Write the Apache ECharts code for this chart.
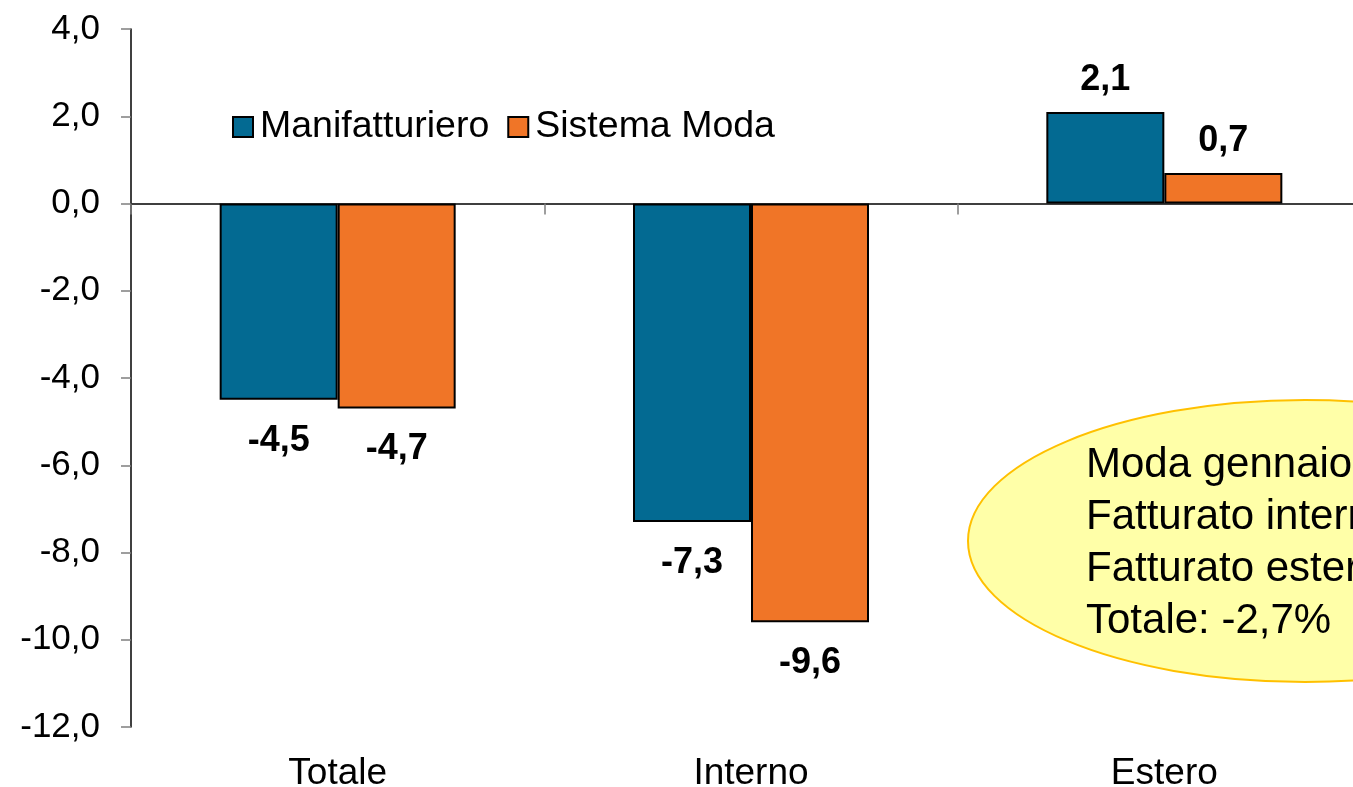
<!DOCTYPE html>
<html>
<head>
<meta charset="utf-8">
<script src="https://cdn.jsdelivr.net/npm/echarts@6/dist/echarts.min.js"></script>
<style>
  html, body { margin: 0; padding: 0; background: #ffffff; overflow: hidden; }
  #wrap { width: 1353px; height: 787px; overflow: hidden; }
  #chart { width: 1400px; height: 787px; }
</style>
</head>
<body>
<div id="wrap"><div id="chart"></div></div>
<script>
// Variazione % del fatturato per mercato
const categories = ['Totale', 'Interno', 'Estero'];
const manifatturiero = [-4.5, -7.3, 2.1];
const sistemaModa = [-4.7, -9.6, 0.7];
const seriesNames = ['Manifatturiero', 'Sistema Moda'];
const noteLines = ['Moda gennaio', 'Fatturato interno', 'Fatturato estero', 'Totale: -2,7%'];

const BLUE = '#036A92';
const ORANGE = '#F07527';
const FONT = "'Liberation Sans', Arial, Helvetica, sans-serif";

const fmt = v => v.toFixed(1).replace('.', ',');

function withLabels(values) {
  return values.map(v => ({
    value: v,
    label: v < 0 ? { position: 'bottom', distance: 23 } : { position: 'top', distance: 14 }
  }));
}

function barSeries(name, values, color) {
  return {
    name: name,
    type: 'bar',
    xAxisIndex: 0,
    barWidth: 118,
    barGap: '0%',
    data: withLabels(values),
    itemStyle: { color: color, borderColor: '#000000', borderWidth: 2 },
    label: {
      show: true,
      formatter: p => fmt(p.value),
      fontFamily: FONT,
      fontWeight: 'bold',
      fontSize: 36,
      color: '#000000'
    }
  };
}

const chart = echarts.init(document.getElementById('chart'), null, { renderer: 'canvas' });

chart.setOption({
  animation: false,
  backgroundColor: '#ffffff',
  grid: {
    left: 131, top: 29, width: 1240, height: 698,
    containLabel: false,
    outerBoundsMode: 'none'
  },
  legend: {
    data: seriesNames,
    left: 232,
    top: 108,
    padding: 0,
    itemWidth: 20,
    itemHeight: 20,
    itemGap: 18,
    icon: 'rect',
    itemStyle: { borderColor: '#000000', borderWidth: 2 },
    textStyle: { fontFamily: FONT, fontSize: 37.5, color: '#000000', padding: [0, 0, 0, 2] }
  },
  xAxis: [
    {
      type: 'category',
      data: categories,
      position: 'bottom',
      axisLine: { show: false, onZero: false },
      axisTick: { show: false },
      axisLabel: { margin: 28, fontFamily: FONT, fontSize: 37, color: '#000000' },
      splitLine: { show: false }
    },
    {
      type: 'category',
      data: categories,
      position: 'bottom',
      axisLine: { show: true, onZero: true, lineStyle: { color: '#000000', width: 1.5 } },
      axisTick: { show: true, inside: false, length: 11, lineStyle: { color: '#7f7f7f', width: 1.5 } },
      axisLabel: { show: false },
      splitLine: { show: false }
    }
  ],
  yAxis: {
    type: 'value',
    min: -12,
    max: 4,
    interval: 2,
    axisLine: { show: true, lineStyle: { color: '#000000', width: 1.5 } },
    axisTick: { show: true, length: 10, lineStyle: { color: '#7f7f7f', width: 1.5 } },
    splitLine: { show: false },
    axisLabel: {
      margin: 31,
      formatter: v => fmt(v),
      fontFamily: FONT,
      fontSize: 35,
      color: '#000000'
    }
  },
  series: [
    barSeries(seriesNames[0], manifatturiero, BLUE),
    barSeries(seriesNames[1], sistemaModa, ORANGE)
  ],
  graphic: [
    {
      type: 'ellipse',
      z: 100,
      shape: { cx: 1305, cy: 541, rx: 337, ry: 141 },
      style: { fill: '#FFFFA8', stroke: '#FFC000', lineWidth: 2 }
    },
    {
      type: 'text',
      z: 101,
      x: 1086,
      y: 439,
      style: {
        text: noteLines.join('\n'),
        fontFamily: FONT,
        fontSize: 42,
        lineHeight: 52,
        fill: '#000000',
        verticalAlign: 'top'
      }
    }
  ]
});
</script>
</body>
</html>
